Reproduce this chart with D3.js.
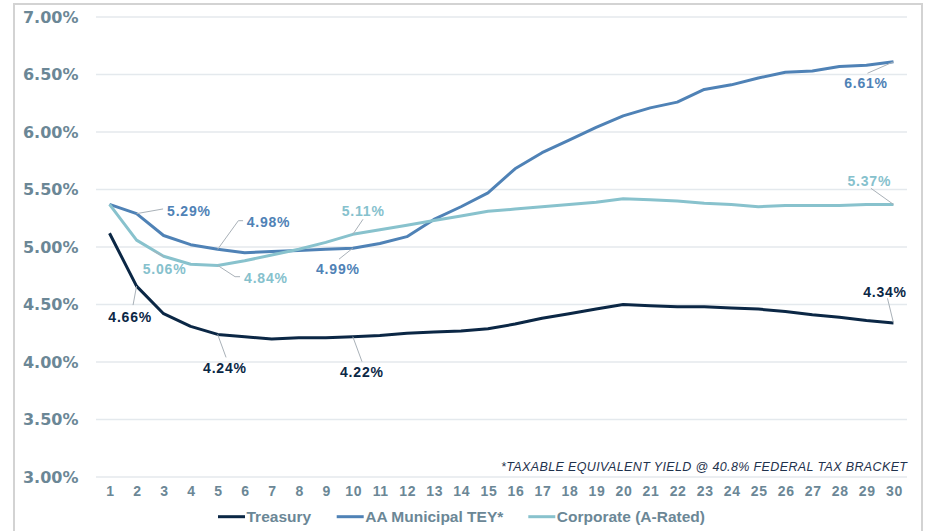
<!DOCTYPE html>
<html>
<head>
<meta charset="utf-8">
<script src="https://cdn.jsdelivr.net/npm/d3@7"></script>
<style>
  html, body { margin: 0; padding: 0; background: #ffffff; }
  svg { display: block; font-family: "Liberation Sans", Arial, sans-serif; }
</style>
</head>
<body>
<svg id="chart" width="930" height="531"></svg>
<script>
// ---------- data ----------
const maturities = [1,2,3,4,5,6,7,8,9,10,11,12,13,14,15,16,17,18,19,20,21,22,23,24,25,26,27,28,29,30];
const treasury  = [5.12,4.66,4.42,4.31,4.24,4.22,4.20,4.21,4.21,4.22,4.23,4.25,4.26,4.27,4.29,4.33,4.38,4.42,4.46,4.50,4.49,4.48,4.48,4.47,4.46,4.44,4.41,4.39,4.36,4.34];
const municipal = [5.37,5.29,5.10,5.02,4.98,4.95,4.96,4.97,4.98,4.99,5.03,5.09,5.24,5.35,5.47,5.68,5.82,5.93,6.04,6.14,6.21,6.26,6.37,6.41,6.47,6.52,6.53,6.57,6.58,6.61];
const corporate = [5.37,5.06,4.92,4.85,4.84,4.88,4.93,4.98,5.04,5.11,5.15,5.19,5.23,5.27,5.31,5.33,5.35,5.37,5.39,5.42,5.41,5.40,5.38,5.37,5.35,5.36,5.36,5.36,5.37,5.37];
const yTicks = [3.0,3.5,4.0,4.5,5.0,5.5,6.0,6.5,7.0];
const seriesNames = ["Treasury","AA Municipal TEY*","Corporate (A-Rated)"];
const footnote = "*TAXABLE EQUIVALENT YIELD @ 40.8% FEDERAL TAX BRACKET";

// ---------- styles ----------
const colors = ["#0b2745","#4f82b6","#88c2cd"];
const labelColors = ["#0b2745","#4f82b6","#86c1cd"];
const tickColor = "#6b8796";
const gridColor = "#e4e9ed";
const leaderColor = "#a9b1b8";

// annotation layout: series index, point index, label offset, leader path offsets
const annotations = [
  {s:1, i:1,  dx:30.5, dy:-2.7,  lead:[[0,0],[26.5,-4.7]]},
  {s:1, i:4,  dx:29,   dy:-27.6, lead:[[0,0],[20.7,-28.6],[25.4,-28.6]]},
  {s:2, i:1,  dx:6.2,  dy:29,    lead:[[17,11],[27,16.5]]},
  {s:2, i:4,  dx:26.4, dy:12.9,  lead:[[0,0],[17.4,11.3],[22.4,11.3]]},
  {s:0, i:1,  dx:-28.2,dy:30.6,  lead:[[0,0],[-3.5,19]]},
  {s:0, i:4,  dx:-14.6,dy:33.3,  lead:[[0,0],[8.4,23]]},
  {s:0, i:9,  dx:-12.8,dy:35,    lead:[[0,0],[9.2,25]]},
  {s:1, i:9,  dx:-36.8,dy:21.1,  lead:[[0,0],[-13.8,11]]},
  {s:2, i:9,  dx:-11.1,dy:-23.4, lead:[[0,0],[10.2,-15.1]]},
  {s:1, i:29, dx:-49.3,dy:21.4,  lead:[[0,0],[-26,11.4]]},
  {s:2, i:29, dx:-46,  dy:-23.5, lead:[[0,0],[-22.6,-16.2]]},
  {s:0, i:29, dx:-30.3,dy:-31.2, lead:[[0,0],[-6,-24.6]]}
];

const svg = d3.select("#chart");
const series = [treasury, municipal, corporate];

// outer border
svg.append("rect")
  .attr("x", 14).attr("y", 4).attr("width", 908).attr("height", 540)
  .attr("fill", "none").attr("stroke", "#d3d3d3").attr("stroke-width", 2);

const x = d3.scalePoint().domain(maturities).range([96, 907]).padding(0.5);
const y = d3.scaleLinear().domain([3, 7]).range([477, 17]);

// gridlines
svg.append("g").selectAll("line").data(yTicks).join("line")
  .attr("x1", 96).attr("x2", 907)
  .attr("y1", d => y(d)).attr("y2", d => y(d))
  .attr("stroke", gridColor).attr("stroke-width", 1.5);

// y axis labels
const yAxis = d3.axisLeft(y).tickValues(yTicks).tickFormat(d => d3.format(".2f")(d) + "%").tickSize(0).tickPadding(0);
const gy = svg.append("g").attr("transform", "translate(78.5,0)").call(yAxis);
gy.select(".domain").remove();
gy.selectAll("text")
  .attr("fill", tickColor).attr("font-size", 16).attr("font-weight", "bold")
  .attr("font-family", "'DejaVu Sans', Verdana, sans-serif");

// x axis labels
const xAxis = d3.axisBottom(x).tickSize(0).tickPadding(0);
const gx = svg.append("g").attr("transform", "translate(0.4,486)").call(xAxis);
gx.select(".domain").remove();
gx.selectAll("text")
  .attr("fill", tickColor).attr("font-size", 14).attr("font-weight", "bold")
  .attr("letter-spacing", "0.7px")
  .attr("font-family", "'Liberation Sans', Arial, sans-serif");

// footnote
svg.append("text")
  .attr("x", 907).attr("y", 471.3)
  .attr("text-anchor", "end")
  .attr("font-size", 12.5).attr("font-style", "italic")
  .attr("fill", "#1f324d")
  .attr("textLength", 406).attr("lengthAdjust", "spacing")
  .text(footnote);

// lines
const line = d3.line().x((d, i) => x(maturities[i])).y(d => y(d));
svg.append("g").selectAll("path").data(series).join("path")
  .attr("d", d => line(d))
  .attr("fill", "none")
  .attr("stroke", (d, i) => colors[i])
  .attr("stroke-width", 3)
  .attr("stroke-linejoin", "round");

// annotations
const ag = svg.append("g");
annotations.forEach(a => {
  const v = series[a.s][a.i];
  const px = x(maturities[a.i]), py = y(v);
  if (a.lead) {
    const pts = a.lead.map(p => [px + p[0], py + p[1]]);
    ag.append("path")
      .attr("d", d3.line()(pts))
      .attr("fill", "none").attr("stroke", leaderColor).attr("stroke-width", 1);
  }
  ag.append("text")
    .attr("x", px + a.dx).attr("y", py + a.dy)
    .attr("dy", "0.36em")
    .attr("font-size", 14).attr("font-weight", "bold")
    .attr("letter-spacing", "0.8px")
    .attr("fill", labelColors[a.s])
    .text(d3.format(".2f")(v) + "%");
});

// legend
const legendX = [218, 336.7, 528.3];
const lg = svg.append("g");
seriesNames.forEach((name, i) => {
  lg.append("line")
    .attr("x1", legendX[i]).attr("x2", legendX[i] + 27)
    .attr("y1", 516.7).attr("y2", 516.7)
    .attr("stroke", colors[i]).attr("stroke-width", 3);
  lg.append("text")
    .attr("x", legendX[i] + 28.5).attr("y", 522.2)
    .attr("font-size", 15.5).attr("font-weight", "bold")
    .attr("fill", tickColor)
    .text(name);
});
</script>
</body>
</html>
